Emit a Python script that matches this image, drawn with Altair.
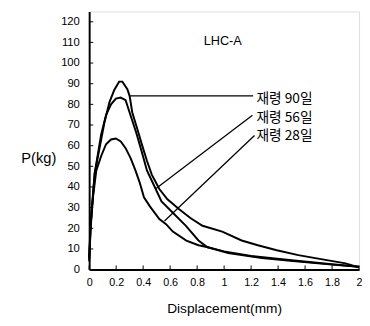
import altair as alt
import pandas as pd

# Series data (Displacement mm, P kg)
x90 = [0.0, 0.005, 0.01, 0.02, 0.03, 0.041, 0.077, 0.114, 0.15, 0.186, 0.222, 0.246, 0.283, 0.30, 0.319, 0.355, 0.391, 0.428, 0.464, 0.52, 0.58, 0.667, 0.75, 0.84, 0.986, 1.13, 1.25, 1.39, 1.55, 1.75, 1.9, 2.0]
y90 = [5, 12, 20, 30, 38, 46.6, 58.8, 71.5, 81, 87, 91, 91, 87.3, 84, 76.2, 68.4, 60.5, 52.7, 46, 39, 34, 29.2, 25, 21.2, 18.4, 14.1, 11.8, 9.4, 7, 4.7, 3, 1]

x56 = [0.0, 0.005, 0.01, 0.02, 0.03, 0.041, 0.089, 0.125, 0.162, 0.198, 0.234, 0.27, 0.31, 0.35, 0.39, 0.428, 0.486, 0.536, 0.62, 0.717, 0.81, 0.877, 1.0, 1.2, 1.5, 1.8, 2.0]
y56 = [4, 11, 19, 28, 37, 46.6, 65.4, 74.8, 80, 82.8, 83.3, 82, 74, 66, 57, 48, 40, 33, 27.5, 21.2, 14.1, 10.8, 8.8, 6.6, 4.5, 2.6, 1.4]

x28 = [0.0, 0.005, 0.01, 0.02, 0.03, 0.053, 0.089, 0.125, 0.162, 0.198, 0.234, 0.27, 0.307, 0.343, 0.375, 0.406, 0.45, 0.52, 0.57, 0.62, 0.72, 0.81, 0.88, 1.03, 1.28, 1.51, 1.8, 2.0]
y28 = [6, 13, 21, 29, 36, 48, 55, 60.7, 63, 63.5, 62, 58.8, 54, 48, 42, 35, 30.6, 24.5, 22, 18.4, 14, 11.8, 10.8, 8, 5.6, 4.2, 2.4, 1.4]

labels = ["재령 90일", "재령 56일", "재령 28일"]
label_y = [82.4, 73.4, 64.5]
label_x = [1.24, 1.24, 1.24]

# leader lines: start on curve -> end near label
lead_x1 = [0.30, 0.493, 0.558]
lead_y1 = [84.1, 39.1, 23.5]
lead_x2 = [1.215, 1.21, 1.225]
lead_y2 = [84.1, 74.7, 64.9]

x_ticks = [0, 0.2, 0.4, 0.6, 0.8, 1, 1.2, 1.4, 1.6, 1.8, 2]
y_ticks = list(range(0, 121, 10))

rows = []
for name, xs, ys in [("90", x90, y90), ("56", x56, y56), ("28", x28, y28)]:
    for i, (a, b) in enumerate(zip(xs, ys)):
        rows.append({"series": name, "x": a, "y": b, "o": i})
df = pd.DataFrame(rows)

xs = alt.Scale(domain=[0, 2], nice=False)
ys = alt.Scale(domain=[0, 125], nice=False)

font = "Liberation Sans"

ax_x = alt.Axis(
    values=x_ticks, title="Displacement(mm)", ticks=False, grid=False,
    labelFont=font, labelFontSize=11, labelColor="black", labelPadding=7,
    labelOverlap=False, labelFlush=False, labelSeparation=0,
    labelExpr="datum.value == 0 ? '0' : format(datum.value, '.1~f')",
    domainColor="black", domainWidth=2,
    titleFont=font, titleFontSize=14, titleFontWeight="normal", titleColor="black",
    titleY=40, titleBaseline="middle")
ax_y = alt.Axis(
    values=y_ticks, title="P(kg)", ticks=False, grid=False,
    labelFont=font, labelFontSize=11.5, labelColor="black", labelPadding=10,
    labelOverlap=False, labelFlush=False, labelSeparation=0,
    domainColor="black", domainWidth=2,
    titleFont=font, titleFontSize=15, titleFontWeight="normal", titleColor="black",
    titleAngle=0, titleX=-52, titleY=149, titleAlign="center", titleBaseline="middle")


def X(f):
    return alt.X(f, scale=xs, axis=ax_x)


def Y(f):
    return alt.Y(f, scale=ys, axis=ax_y)


lines = alt.Chart(df).mark_line(color="black", strokeWidth=2).encode(
    x=X("x:Q"), y=Y("y:Q"), detail="series:N", order="o:Q")

tdf_x = pd.DataFrame({"t": x_ticks, "z": [0] * len(x_ticks), "h": [2.0] * len(x_ticks)})
xt = alt.Chart(tdf_x).mark_rule(color="black", strokeWidth=1).encode(
    x=X("t:Q"), y=Y("z:Q"), y2="h:Q")

tdf_y = pd.DataFrame({"t": y_ticks, "z": [0] * len(y_ticks), "w": [0.03] * len(y_ticks)})
yt = alt.Chart(tdf_y).mark_rule(color="black", strokeWidth=1).encode(
    y=Y("t:Q"), x=X("z:Q"), x2="w:Q")

ldf = pd.DataFrame({"x1": lead_x1, "y1": lead_y1, "x2": lead_x2, "y2": lead_y2})
leaders = alt.Chart(ldf).mark_rule(color="black", strokeWidth=1.3).encode(
    x=X("x1:Q"), y=Y("y1:Q"), x2="x2:Q", y2="y2:Q")

tdf = pd.DataFrame({"x": label_x, "y": label_y, "t": labels})
texts = alt.Chart(tdf).mark_text(align="left", baseline="middle", font="Noto Sans CJK KR",
                                 fontSize=14, fontWeight="normal", color="black").encode(
    x=X("x:Q"), y=Y("y:Q"), text="t:N")

title_df = pd.DataFrame({"x": [0.99], "y": [110.4], "t": ["LHC-A"]})
title_txt = alt.Chart(title_df).mark_text(align="center", baseline="middle", font=font,
                                          fontSize=13, color="black").encode(
    x=X("x:Q"), y=Y("y:Q"), text="t:N")

chart = alt.layer(lines, xt, yt, leaders, texts, title_txt).properties(
    width=276, height=264,
    autosize=alt.AutoSizeParams(type="none"),
    padding={"left": 83, "top": 0, "right": 3, "bottom": 46},
).configure_view(stroke="black", strokeWidth=1.5).configure(background="white")

chart.save("out.html", embed_options={"renderer": "svg", "actions": False})
